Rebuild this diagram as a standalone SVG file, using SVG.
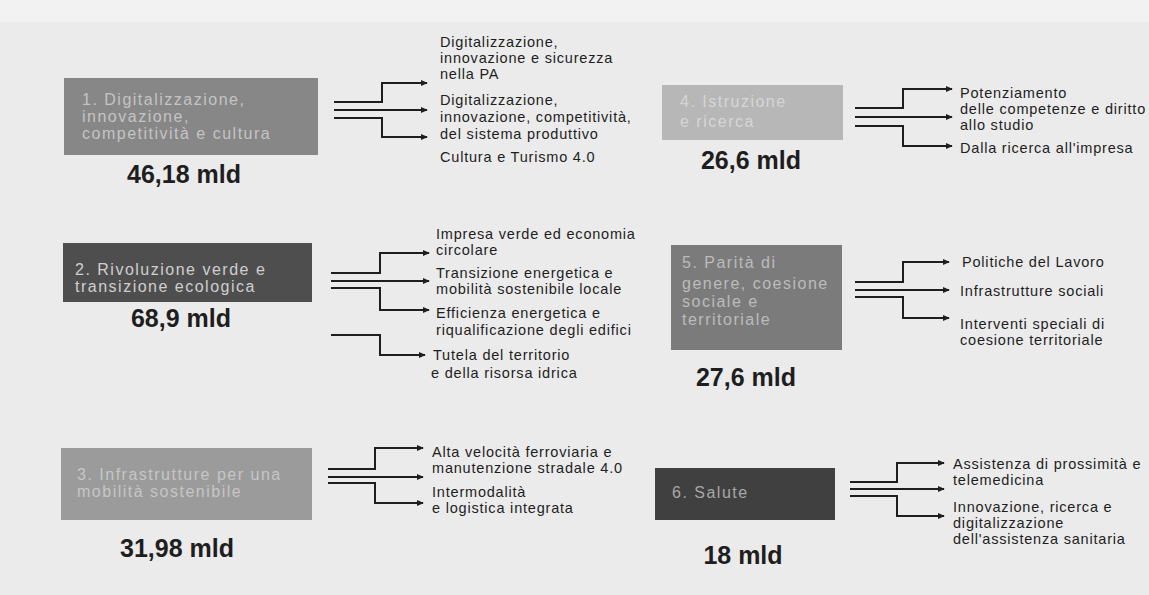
<svg xmlns="http://www.w3.org/2000/svg" width="1149" height="595" viewBox="0 0 1149 595">
<defs>
<marker id="arr" viewBox="0 0 8 8" refX="7" refY="4" markerWidth="7" markerHeight="7" markerUnits="userSpaceOnUse" orient="auto"><path d="M0,0.5 L8,4 L0,7.5 z" fill="#1e1e1e"/></marker>
</defs>
<style>
.bg{fill:#ebebeb}
.c{fill:none;stroke:#1e1e1e;stroke-width:2;marker-end:url(#arr)}
.bt{font-family:"Liberation Sans",Arial,sans-serif;font-size:16px;letter-spacing:1.5px}
.lb{font-family:"Liberation Sans",Arial,sans-serif;font-size:14.5px;letter-spacing:0.8px;fill:#1e1e1e}
.amt{font-family:"Liberation Sans",Arial,sans-serif;font-size:25px;font-weight:900;fill:#1e1e1e;text-anchor:middle}
</style>
<rect class="bg" x="0" y="0" width="1149" height="595"/>
<rect x="0" y="0" width="1149" height="22" fill="#f2f2f2"/>

<g id="node1">
<rect x="64" y="78" width="254" height="77" fill="#878787"/>
<text class="bt" fill="#c4c4c4"><tspan x="82" y="105">1. Digitalizzazione,</tspan><tspan x="82" y="122">innovazione,</tspan><tspan x="82" y="139">competitività e cultura</tspan></text>
<text class="amt" x="184" y="183">46,18 mld</text>
</g>
<g id="node1-labels">
<text class="lb"><tspan x="440" y="47">Digitalizzazione,</tspan><tspan x="440" y="63">innovazione e sicurezza</tspan><tspan x="440" y="79">nella PA</tspan></text>
<text class="lb"><tspan x="440" y="105">Digitalizzazione,</tspan><tspan x="440" y="122">innovazione, competitività,</tspan><tspan x="440" y="139">del sistema produttivo</tspan></text>
<text class="lb" x="440" y="162">Cultura e Turismo 4.0</text>
</g>

<g id="node4">
<rect x="662" y="85" width="181" height="55" fill="#b7b7b7"/>
<text class="bt" fill="#d6d6d6"><tspan x="680" y="107">4. Istruzione</tspan><tspan x="680" y="127">e ricerca</tspan></text>
<text class="amt" x="751" y="169">26,6 mld</text>
</g>
<g id="node4-labels">
<text class="lb" x="960" y="98">Potenziamento</text>
<text class="lb"><tspan x="960" y="114">delle competenze e diritto</tspan><tspan x="960" y="130">allo studio</tspan></text>
<text class="lb" x="960" y="153">Dalla ricerca all'impresa</text>
</g>

<g id="node2">
<rect x="63" y="243" width="249" height="59" fill="#4e4e4e"/>
<text class="bt" fill="#cfcfcf"><tspan x="75" y="275">2. Rivoluzione verde e</tspan><tspan x="75" y="292">transizione ecologica</tspan></text>
<text class="amt" x="181" y="327">68,9 mld</text>
</g>
<g id="node2-labels">
<text class="lb"><tspan x="436" y="239">Impresa verde ed economia</tspan><tspan x="436" y="255">circolare</tspan></text>
<text class="lb"><tspan x="436" y="278">Transizione energetica e</tspan><tspan x="436" y="294">mobilità sostenibile locale</tspan></text>
<text class="lb"><tspan x="436" y="318">Efficienza energetica e</tspan><tspan x="436" y="335">riqualificazione degli edifici</tspan></text>
<text class="lb"><tspan x="433" y="360">Tutela del territorio</tspan><tspan x="431" y="378">e della risorsa idrica</tspan></text>
</g>

<g id="node5">
<rect x="671" y="245" width="171" height="105" fill="#7b7b7b"/>
<text class="bt" fill="#bcbcbc"><tspan x="682" y="268">5. Parità di</tspan><tspan x="682" y="289">genere, coesione</tspan><tspan x="682" y="307">sociale e</tspan><tspan x="682" y="325">territoriale</tspan></text>
<text class="amt" x="746" y="386">27,6 mld</text>
</g>
<g id="node5-labels">
<text class="lb" x="962" y="267">Politiche del Lavoro</text>
<text class="lb" x="960" y="296">Infrastrutture sociali</text>
<text class="lb"><tspan x="960" y="329">Interventi speciali di</tspan><tspan x="960" y="345">coesione territoriale</tspan></text>
</g>

<g id="node3">
<rect x="61" y="448" width="251" height="72" fill="#9b9b9b"/>
<text class="bt" fill="#c6c6c6"><tspan x="77" y="480">3. Infrastrutture per una</tspan><tspan x="77" y="497">mobilità sostenibile</tspan></text>
<text class="amt" x="177" y="557">31,98 mld</text>
</g>
<g id="node3-labels">
<text class="lb"><tspan x="432" y="457">Alta velocità ferroviaria e</tspan><tspan x="432" y="473">manutenzione stradale 4.0</tspan></text>
<text class="lb"><tspan x="432" y="497">Intermodalità</tspan><tspan x="432" y="513">e logistica integrata</tspan></text>
</g>

<g id="node6">
<rect x="655" y="468" width="180" height="52" fill="#404040"/>
<text class="bt" fill="#a8a8a8" x="672" y="498">6. Salute</text>
<text class="amt" x="743" y="564">18 mld</text>
</g>
<g id="node6-labels">
<text class="lb"><tspan x="953" y="469">Assistenza di prossimità e</tspan><tspan x="953" y="485">telemedicina</tspan></text>
<text class="lb"><tspan x="953" y="512">Innovazione, ricerca e</tspan><tspan x="953" y="528">digitalizzazione</tspan><tspan x="953" y="544">dell'assistenza sanitaria</tspan></text>
</g>

<g id="connectors">
<path class="c" d="M334,102 H382 V83 H427"/>
<path class="c" d="M334,110 H427"/>
<path class="c" d="M334,118 H382 V137 H427"/>

<path class="c" d="M855,108 H903 V89 H952"/>
<path class="c" d="M855,117 H952"/>
<path class="c" d="M855,126 H903 V146 H952"/>

<path class="c" d="M331,273 H380 V253 H429"/>
<path class="c" d="M331,281 H429"/>
<path class="c" d="M331,288 H380 V310 H429"/>
<path class="c" d="M331,335 H380 V355 H425"/>

<path class="c" d="M855,282 H903 V262 H949"/>
<path class="c" d="M855,290 H949"/>
<path class="c" d="M855,297 H903 V318 H949"/>

<path class="c" d="M328,469 H375 V448 H423"/>
<path class="c" d="M328,477 H423"/>
<path class="c" d="M328,483 H375 V503 H423"/>

<path class="c" d="M850,482 H897 V463 H944"/>
<path class="c" d="M850,489 H944"/>
<path class="c" d="M850,496 H897 V516 H944"/>
</g>
</svg>
